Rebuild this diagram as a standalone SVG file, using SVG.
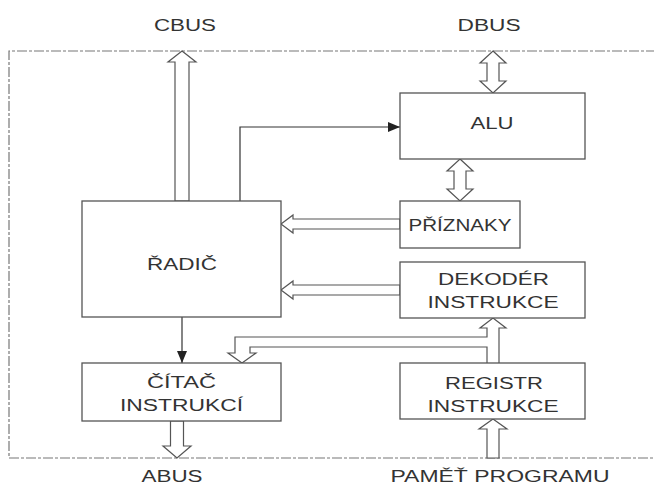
<svg xmlns="http://www.w3.org/2000/svg" width="654" height="486" viewBox="0 0 654 486">
<defs>
<style>
.box{fill:#fff;stroke:#555;stroke-width:1.3}
.hollow{fill:#fff;stroke:#555;stroke-width:1.2;stroke-linejoin:miter}
.thin{fill:none;stroke:#333;stroke-width:1.2}
.border{fill:none;stroke:#777;stroke-width:1.2;stroke-dasharray:10 2 3 2}
text{font-family:"Liberation Sans",Arial,sans-serif;font-size:16px;fill:#333;text-anchor:middle}
</style>
<marker id="ah" viewBox="0 0 12 10" refX="12" refY="5" markerWidth="12" markerHeight="10" markerUnits="userSpaceOnUse" orient="auto">
<path d="M0,0 L12,5 L0,10 z" fill="#222"/>
</marker>
</defs>
<rect width="654" height="486" fill="#fff"/>
<path class="border" d="M656,51 H9 V458 H656"/>

<g id="labels">
<text x="185" y="30.5" textLength="62" lengthAdjust="spacingAndGlyphs">CBUS</text>
<text x="489" y="30.5" textLength="63" lengthAdjust="spacingAndGlyphs">DBUS</text>
<text x="172" y="482" textLength="61" lengthAdjust="spacingAndGlyphs">ABUS</text>
<text x="500" y="482" textLength="219" lengthAdjust="spacingAndGlyphs">PAMĚŤ PROGRAMU</text>
</g>

<g id="connectors">
<polygon class="hollow" points="493,51 506,63 499,63 499,81 506,81 493,93 480,81 487,81 487,63 480,63"/>
<polygon class="hollow" points="460,159 473,171 466,171 466,189 473,189 460,201 447,189 454,189 454,171 447,171"/>
<polygon class="hollow" points="182,51 196,62 189,62 189,201 175,201 175,62 168,62"/>
<path class="thin" d="M240,201 V127 H400" marker-end="url(#ah)"/>
<path class="thin" d="M182,317 V363" marker-end="url(#ah)"/>
<polygon class="hollow" points="400,219 293,219 293,215 281,224 293,233 293,229 400,229"/>
<polygon class="hollow" points="400,285 293,285 293,281 281,290 293,299 293,295 400,295"/>
<path class="hollow" d="M499,363 V328 H506 L493,318 L480,328 H487 V337 H235 V353 H228 L242,363 L256,353 H250 V347 H487 V363"/>
<polygon class="hollow" points="170.5,421 170.5,446 163,446 177,458 191,446 183.5,446 183.5,421"/>
<polygon class="hollow" points="493,419 507,429 499,429 499,458 487,458 487,429 479,429"/>
</g>

<g id="radic">
<rect class="box" x="82" y="201" width="199" height="116"/>
<text x="182" y="270" textLength="70" lengthAdjust="spacingAndGlyphs">ŘADIČ</text>
</g>
<g id="alu">
<rect class="box" x="400" y="93" width="185" height="66"/>
<text x="492" y="128.5" textLength="43" lengthAdjust="spacingAndGlyphs">ALU</text>
</g>
<g id="priznaky">
<rect class="box" x="400" y="201" width="120" height="47"/>
<text x="460" y="231" textLength="103" lengthAdjust="spacingAndGlyphs">PŘÍZNAKY</text>
</g>
<g id="dekoder">
<rect class="box" x="400" y="262" width="185" height="56"/>
<text x="493.5" y="285" textLength="111" lengthAdjust="spacingAndGlyphs">DEKODÉR</text>
<text x="493" y="307.5" textLength="131" lengthAdjust="spacingAndGlyphs">INSTRUKCE</text>
</g>
<g id="citac">
<rect class="box" x="82" y="363" width="199" height="58"/>
<text x="181.5" y="387.5" textLength="69" lengthAdjust="spacingAndGlyphs">ČÍTAČ</text>
<text x="181.5" y="410.5" textLength="123" lengthAdjust="spacingAndGlyphs">INSTRUKCÍ</text>
</g>
<g id="registr">
<rect class="box" x="400" y="363" width="185" height="56"/>
<text x="494" y="389" textLength="98" lengthAdjust="spacingAndGlyphs">REGISTR</text>
<text x="493" y="411.5" textLength="131" lengthAdjust="spacingAndGlyphs">INSTRUKCE</text>
</g>
</svg>
